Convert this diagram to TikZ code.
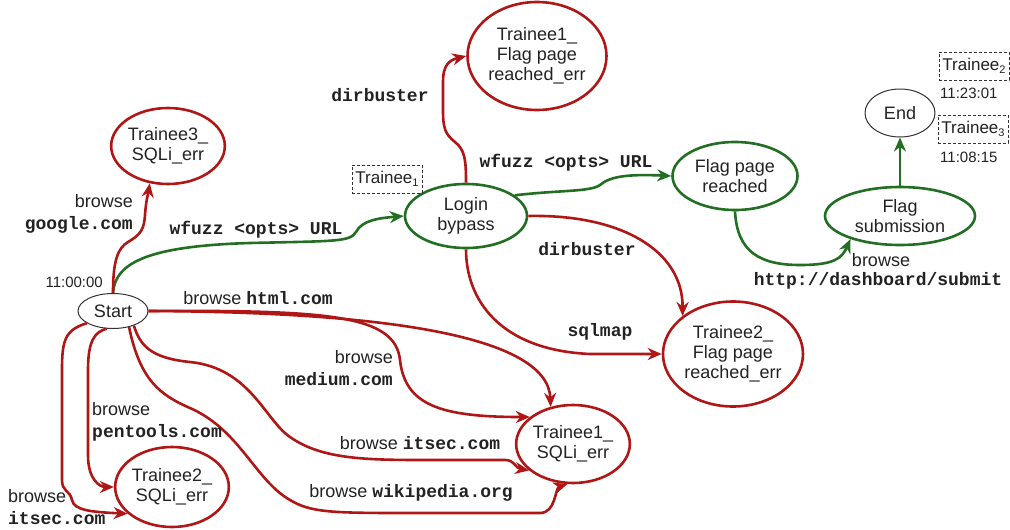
\documentclass[tikz,border=0pt]{standalone}
\usepackage{fontspec}
\setmainfont{Liberation Sans}
\setmonofont{Liberation Mono}
\usetikzlibrary{shapes.geometric,arrows.meta}
\definecolor{rd}{RGB}{176,22,22}
\definecolor{gn}{RGB}{34,110,34}
\definecolor{tx}{RGB}{34,34,34}
\newcommand{\cd}[1]{{\ttfamily\bfseries #1}}
\newcommand{\subs}[1]{\raisebox{-3pt}{\fontsize{11}{11}\selectfont #1}}
\begin{document}
\begin{tikzpicture}[x=1pt,y=-1pt,
  every node/.style={text=tx,font=\fontsize{18}{20}\selectfont},
  ell/.style={ellipse,draw,inner sep=0pt,align=center,line width=2.6pt},
  redn/.style={ell,draw=rd},
  grn/.style={ell,draw=gn},
  blk/.style={ellipse,draw=black!80,line width=1pt,inner sep=0pt},
  redge/.style={draw=rd,line width=2.6pt,-{Stealth[length=14pt,width=12pt]}},
  gedge/.style={draw=gn,line width=2.6pt,-{Stealth[length=14pt,width=12pt]}},
  lbl/.style={inner sep=0pt,align=center},
  tbox/.style={draw=black!80,line width=0.8pt,dash pattern=on 3pt off 2pt,inner sep=1pt,
    font=\fontsize{17}{19}\selectfont,minimum width=70pt,minimum height=28pt},
  small/.style={font=\fontsize{15}{17}\selectfont,inner sep=0pt}
]
\useasboundingbox (0,0) rectangle (1010,530);

% nodes
\node[blk,minimum width=70pt,minimum height=35pt] (start) at (113,311) {Start};
\node[redn,minimum width=111pt,minimum height=76pt] (t3sql) at (168,146) {Trainee3\_\\SQLi\_err};
\node[grn,minimum width=122pt,minimum height=64pt] (login) at (466,216) {Login\\bypass};
\node[redn,minimum width=139pt,minimum height=108pt] (t1flag) at (537,56) {Trainee1\_\\Flag page\\reached\_err};
\node[grn,minimum width=125pt,minimum height=68pt] (flag) at (735,176) {Flag page\\reached};
\node[blk,minimum width=70pt,minimum height=48pt] (end) at (900,113) {End};
\node[grn,minimum width=150pt,minimum height=58pt] (sub) at (900,216) {Flag\\submission};
\node[redn,minimum width=140pt,minimum height=105pt] (t2flag) at (733,354) {Trainee2\_\\Flag page\\reached\_err};
\node[redn,minimum width=110pt,minimum height=78pt] (t1sql) at (573,444) {Trainee1\_\\SQLi\_err};
\node[redn,minimum width=108pt,minimum height=80pt] (t2sql) at (172,487) {Trainee2\_\\SQLi\_err};

\node[tbox] (tb1) at (387,179) {Trainee\subs{1}};
\node[tbox] (tb2) at (974,66) {Trainee\subs{2}};
\node[tbox] (tb3) at (973,129) {Trainee\subs{3}};
\node[small,anchor=west] (tm2) at (940,93) {11:23:01};
\node[small,anchor=west] (tm3) at (940,157) {11:08:15};
\node[small,anchor=east] (tm0) at (103,282) {11:00:00};

% green edges
\draw[gedge] (start.north) .. controls (115,262) and (150,246) .. (250,243)
  .. controls (335,241) and (350,242) .. (356,232)
  .. controls (362,220) and (380,218) .. (login.west);
\draw[gedge] (login.23) .. controls (560,190) and (590,192) .. (600,185)
  .. controls (610,176) and (630,174) .. (flag.west);
\draw[gedge] (flag.south) .. controls (737,252) and (760,265) .. (800,265)
  .. controls (835,265) and (842,258) .. (sub.205);
\draw[gedge] (sub.north) -- (end.south);

% red edges
\draw[redge] (start.north) .. controls (113,260) and (118,248) .. (128,242)
  .. controls (142,234) and (144,228) .. (145,215)
  .. controls (146,200) and (148,195) .. (t3sql.244);
\draw[redge] (login.north) .. controls (466,160) and (465,150) .. (455,142)
  .. controls (445,134) and (443,128) .. (443,110) -- (443,82)
  .. controls (443,64) and (450,60) .. (t1flag.west);
\draw[redge] (login.east) .. controls (620,214) and (683,250) .. (t2flag.143);
\draw[redge] (login.south) .. controls (466,300) and (500,350) .. (590,354) -- (t2flag.west);

\draw[redge] (start.east) .. controls (380,312) and (548,335) .. (t1sql.121);
\draw[redge] (start.east) .. controls (330,310) and (395,315) .. (400,360)
  .. controls (405,405) and (440,417) .. (t1sql.148);
\draw[redge] (start.-35) .. controls (140,345) and (150,358) .. (190,362)
  .. controls (250,368) and (265,420) .. (290,437)
  .. controls (320,458) and (360,460) .. (420,460) -- (505,460)
  .. controls (515,460) and (515,468) .. (t1sql.211);
\draw[redge] (start.-45) .. controls (140,380) and (160,395) .. (190,408)
  .. controls (240,430) and (255,480) .. (290,500)
  .. controls (310,512) and (330,513) .. (400,513) -- (540,513)
  .. controls (556,513) and (555,488) .. (t1sql.262);
\draw[redge] (start.-110) .. controls (95,332) and (88,340) .. (88,370) -- (88,455)
  .. controls (88,480) and (100,487) .. (t2sql.west);
\draw[redge] (start.-155) .. controls (65,330) and (62,340) .. (62,370) -- (62,480)
  .. controls (62,492) and (70,490) .. (72,500)
  .. controls (74,510) and (90,512) .. (t2sql.211);

% labels
\node[lbl,anchor=east,align=right] (l1) at (133,214) {browse\\[2pt]\cd{google.com}};
\node[lbl] (l2) at (256,230) {\cd{wfuzz <opts> URL}};
\node[lbl] (l3) at (258,298) {browse \cd{html.com}};
\node[lbl] (l4) at (380,95) {\cd{dirbuster}};
\node[lbl] (l5) at (566,163) {\cd{wfuzz <opts> URL}};
\node[lbl] (l6) at (587,249) {\cd{dirbuster}};
\node[lbl] (l7) at (600,332) {\cd{sqlmap}};
\node[lbl,anchor=east,align=right] (l8) at (393,368) {browse\\[2pt]\cd{medium.com}};
\node[lbl] (l9) at (420,443) {browse \cd{itsec.com}};
\node[lbl] (l10) at (411,493) {browse \cd{wikipedia.org}};
\node[lbl,anchor=west,align=left] (l11) at (92,422) {browse\\[2pt]\cd{pentools.com}};
\node[lbl,anchor=west,align=left] (l12) at (8,507) {browse\\[2pt]\cd{itsec.com}};
\node[lbl] (l13) at (881,260) {browse};
\node[lbl] (l14) at (878,281) {\cd{http://dashboard/submit}};
\end{tikzpicture}
\end{document}
